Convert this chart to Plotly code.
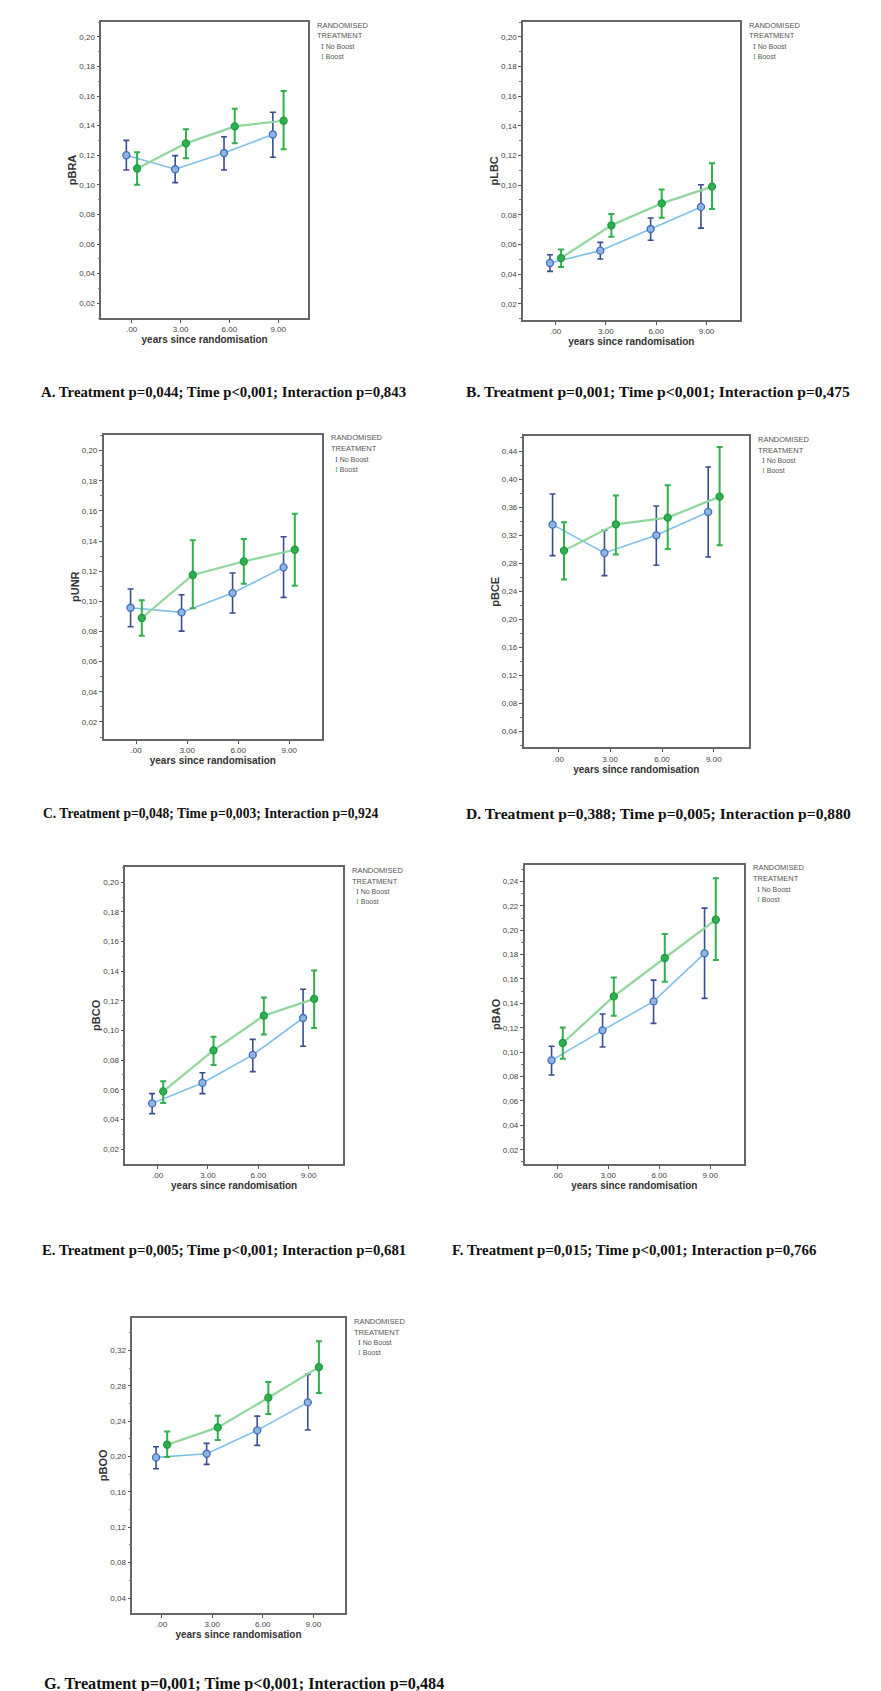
import plotly.graph_objects as go

# ---------------- data ----------------
years = [0, 3, 6, 9]
xtick_text = [".00", "3.00", "6.00", "9.00"]

# A. pBRA
pBRA_nb = [0.120, 0.1105, 0.1215, 0.134]
pBRA_nb_lo = [0.110, 0.1015, 0.110, 0.1186]
pBRA_nb_hi = [0.130, 0.1197, 0.1325, 0.149]
pBRA_b = [0.111, 0.128, 0.1395, 0.1433]
pBRA_b_lo = [0.100, 0.118, 0.128, 0.124]
pBRA_b_hi = [0.122, 0.1375, 0.1514, 0.1633]

# B. pLBC
pLBC_nb = [0.0475, 0.0558, 0.0704, 0.0853]
pLBC_nb_lo = [0.0418, 0.0502, 0.0628, 0.071]
pLBC_nb_hi = [0.053, 0.0614, 0.0778, 0.1003]
pLBC_b = [0.0508, 0.0729, 0.0877, 0.099]
pLBC_b_lo = [0.0448, 0.0652, 0.078, 0.0839]
pLBC_b_hi = [0.0565, 0.0805, 0.097, 0.1147]

# C. pUNR
pUNR_nb = [0.0958, 0.0927, 0.1055, 0.1226]
pUNR_nb_lo = [0.0832, 0.0803, 0.0923, 0.1027]
pUNR_nb_hi = [0.1082, 0.1044, 0.1188, 0.1429]
pUNR_b = [0.089, 0.1175, 0.1265, 0.1343]
pUNR_b_lo = [0.0772, 0.0954, 0.1117, 0.1104]
pUNR_b_hi = [0.1007, 0.1405, 0.1414, 0.1582]

# D. pBCE
pBCE_nb = [0.3352, 0.2948, 0.320, 0.3533]
pBCE_nb_lo = [0.291, 0.2624, 0.2771, 0.289]
pBCE_nb_hi = [0.379, 0.3271, 0.3619, 0.4176]
pBCE_b = [0.2981, 0.3357, 0.3452, 0.3752]
pBCE_b_lo = [0.2567, 0.2924, 0.3005, 0.3057]
pBCE_b_hi = [0.3386, 0.3767, 0.3914, 0.4462]

# E. pBCO
pBCO_nb = [0.0508, 0.0646, 0.0835, 0.1084]
pBCO_nb_lo = [0.0439, 0.0574, 0.0722, 0.0893]
pBCO_nb_hi = [0.0574, 0.0715, 0.094, 0.1278]
pBCO_b = [0.0589, 0.0866, 0.110, 0.1213]
pBCO_b_lo = [0.0511, 0.0767, 0.0972, 0.1017]
pBCO_b_hi = [0.0657, 0.0958, 0.1222, 0.1404]

# F. pBAO
pBAO_nb = [0.0933, 0.1179, 0.1416, 0.181]
pBAO_nb_lo = [0.0813, 0.1042, 0.1236, 0.1441]
pBAO_nb_hi = [0.1048, 0.1313, 0.1591, 0.2181]
pBAO_b = [0.1075, 0.1457, 0.1772, 0.2086]
pBAO_b_lo = [0.0946, 0.1299, 0.1578, 0.1755]
pBAO_b_hi = [0.1203, 0.1613, 0.1968, 0.2425]

# G. pBOO
pBOO_nb = [0.199, 0.2031, 0.2295, 0.2612]
pBOO_nb_lo = [0.1862, 0.1911, 0.2126, 0.2299]
pBOO_nb_hi = [0.211, 0.2148, 0.2457, 0.2929]
pBOO_b = [0.2133, 0.2329, 0.2665, 0.3011]
pBOO_b_lo = [0.1994, 0.2186, 0.248, 0.2717]
pBOO_b_hi = [0.2284, 0.2461, 0.2842, 0.3302]

# y tick sets
yt_020 = [0.02, 0.04, 0.06, 0.08, 0.10, 0.12, 0.14, 0.16, 0.18, 0.20]
yt_020_txt = ["0,02", "0,04", "0,06", "0,08", "0,10", "0,12", "0,14", "0,16", "0,18", "0,20"]
yt_044 = [0.04, 0.08, 0.12, 0.16, 0.20, 0.24, 0.28, 0.32, 0.36, 0.40, 0.44]
yt_044_txt = ["0,04", "0,08", "0,12", "0,16", "0,20", "0,24", "0,28", "0,32", "0,36", "0,40", "0,44"]
yt_024 = [0.02, 0.04, 0.06, 0.08, 0.10, 0.12, 0.14, 0.16, 0.18, 0.20, 0.22, 0.24]
yt_024_txt = ["0,02", "0,04", "0,06", "0,08", "0,10", "0,12", "0,14", "0,16", "0,18", "0,20", "0,22", "0,24"]
yt_032 = [0.04, 0.08, 0.12, 0.16, 0.20, 0.24, 0.28, 0.32]
yt_032_txt = ["0,04", "0,08", "0,12", "0,16", "0,20", "0,24", "0,28", "0,32"]

y_titles = ["pBRA", "pLBC", "pUNR", "pBCE", "pBCO", "pBAO", "pBOO"]
captions = [
    "A. Treatment p=0,044; Time p<0,001; Interaction p=0,843",
    "B. Treatment p=0,001; Time p<0,001; Interaction p=0,475",
    "C. Treatment p=0,048; Time p=0,003; Interaction p=0,924",
    "D. Treatment p=0,388; Time p=0,005; Interaction p=0,880",
    "E. Treatment p=0,005; Time p<0,001; Interaction p=0,681",
    "F. Treatment p=0,015; Time p<0,001; Interaction p=0,766",
    "G. Treatment p=0,001; Time p<0,001; Interaction p=0,484",
]
legend_title = ["RANDOMISED", "TREATMENT"]
group_names = ["No Boost", "Boost"]

# ---------------- layout geometry ----------------
W, H = 881, 1691
panels = [
    dict(nb=(pBRA_nb, pBRA_nb_lo, pBRA_nb_hi), b=(pBRA_b, pBRA_b_lo, pBRA_b_hi),
         box=(93.3, 300, 14, 310), xr=(-1.87, 10.83), yr=(0.010, 0.210),
         yt=(yt_020, yt_020_txt), minor=0.01, cap=(31, 384, 14.8)),
    dict(nb=(pLBC_nb, pLBC_nb_lo, pLBC_nb_hi), b=(pLBC_b, pLBC_b_lo, pLBC_b_hi),
         box=(515, 731.7, 14, 311.7), xr=(-1.94, 10.98), yr=(0.0092, 0.2101),
         yt=(yt_020, yt_020_txt), minor=0.01, cap=(456, 384, 15.6)),
    dict(nb=(pUNR_nb, pUNR_nb_lo, pUNR_nb_hi), b=(pUNR_b, pUNR_b_lo, pUNR_b_hi),
         box=(95.7, 314, 426.7, 730.7), xr=(-1.91, 10.93), yr=(0.0089, 0.2106),
         yt=(yt_020, yt_020_txt), minor=0.01, cap=(33, 805, 13.6)),
    dict(nb=(pBCE_nb, pBCE_nb_lo, pBCE_nb_hi), b=(pBCE_b, pBCE_b_lo, pBCE_b_hi),
         box=(515.7, 741, 428.3, 739.3), xr=(-2.0, 11.03), yr=(0.0171, 0.4614),
         yt=(yt_044, yt_044_txt), minor=0.02, cap=(456, 805, 15.6)),
    dict(nb=(pBCO_nb, pBCO_nb_lo, pBCO_nb_hi), b=(pBCO_b, pBCO_b_lo, pBCO_b_hi),
         box=(117.3, 335, 859, 1155.7), xr=(-1.93, 11.05), yr=(0.0101, 0.2103),
         yt=(yt_020, yt_020_txt), minor=0.01, cap=(32, 1242, 14.8)),
    dict(nb=(pBAO_nb, pBAO_nb_lo, pBAO_nb_hi), b=(pBAO_b, pBAO_b_lo, pBAO_b_hi),
         box=(516.7, 736, 856.7, 1156), xr=(-1.91, 10.99), yr=(0.0083, 0.2537),
         yt=(yt_024, yt_024_txt), minor=0.01, cap=(442, 1242, 14.9)),
    dict(nb=(pBOO_nb, pBOO_nb_lo, pBOO_nb_hi), b=(pBOO_b, pBOO_b_lo, pBOO_b_hi),
         box=(124.3, 336.7, 1310, 1604.7), xr=(-1.74, 10.86), yr=(0.0234, 0.3566),
         yt=(yt_032, yt_032_txt), minor=0.02, cap=(34, 1676, 16.2)),
]

styles = {
    "nb": dict(off=-0.33, line="#7ec0ea", mfill="#8db4e2", medge="#3f6fba", err="#3b4d92", ethick=1.6, lw=1.6),
    "b": dict(off=0.33, line="#8fd79a", mfill="#2fb04e", medge="#1f9940", err="#32b04c", ethick=2.0, lw=2.2),
}

fig = go.Figure()
annotations = []
layout_axes = {}

for i, p in enumerate(panels, start=1):
    xa = "x" if i == 1 else f"x{i}"
    ya = "y" if i == 1 else f"y{i}"
    for key, gname in zip(["nb", "b"], group_names):
        mean, lo, hi = p[key]
        st = styles[key]
        fig.add_trace(go.Scatter(
            x=[t + st["off"] for t in years], y=mean,
            mode="lines+markers", name=gname, showlegend=False,
            line=dict(color=st["line"], width=st["lw"]),
            marker=dict(symbol="circle", size=7, color=st["mfill"],
                        line=dict(color=st["medge"], width=1.3)),
            error_y=dict(type="data", symmetric=False,
                         array=[h - m for h, m in zip(hi, mean)],
                         arrayminus=[m - l for m, l in zip(mean, lo)],
                         color=st["err"], thickness=st["ethick"], width=3),
            xaxis=xa, yaxis=ya,
        ))
    left, right, top, bottom = p["box"]
    xdom = [left / W, right / W]
    ydom = [1 - bottom / H, 1 - top / H]
    axis_common = dict(showline=True, linecolor="#666666", linewidth=1.6, mirror=True,
                       showgrid=False, zeroline=False, ticks="outside", ticklen=3,
                       tickcolor="#555", tickfont=dict(family="Arial", size=8, color="#444"))
    layout_axes[f"xaxis{'' if i == 1 else i}"] = dict(
        domain=xdom, range=list(p["xr"]), anchor=ya,
        tickmode="array", tickvals=years, ticktext=xtick_text,
        title=dict(text="years since randomisation", standoff=3,
                   font=dict(family="Arial", size=10, color="#333", weight="bold")),
        **axis_common)
    layout_axes[f"yaxis{'' if i == 1 else i}"] = dict(
        domain=ydom, range=list(p["yr"]), anchor=xa,
        tickmode="array", tickvals=p["yt"][0], ticktext=p["yt"][1],
        minor=dict(ticks="outside", ticklen=2, dtick=p["minor"], tick0=0, tickcolor="#777"),
        title=dict(text=y_titles[i - 1], standoff=0,
                   font=dict(family="Arial", size=11, color="#333", weight="bold")),
        **axis_common)

    # legend block (per panel), one line per annotation
    for k, line in enumerate(legend_title):
        annotations.append(dict(
            x=(right + 7) / W, y=1 - (top + 3 + 11 * k) / H, xref="paper", yref="paper",
            xanchor="left", yanchor="middle", text=line, showarrow=False,
            font=dict(family="Arial", size=7.5, color="#555")))
    for k, (gname, col) in enumerate(zip(group_names, [styles["nb"]["err"], styles["b"]["err"]])):
        annotations.append(dict(
            x=(right + 11) / W, y=1 - (top + 25 + 10 * k) / H, xref="paper", yref="paper",
            xanchor="left", yanchor="middle", showarrow=False, align="left",
            text=f"<span style='font-family:DejaVu Serif;color:{col}'>I</span> {gname}",
            font=dict(family="Arial", size=7, color="#555")))

    # caption
    cx, cy, cs = p["cap"]
    annotations.append(dict(
        x=cx / W, y=1 - cy / H, xref="paper", yref="paper", xanchor="left", yanchor="middle",
        text=captions[i - 1], showarrow=False,
        font=dict(family="Liberation Serif", size=cs, color="#111", weight="bold")))

fig.update_layout(
    width=W, height=H, margin=dict(l=0, r=0, t=0, b=0),
    paper_bgcolor="white", plot_bgcolor="white",
    annotations=annotations, showlegend=False,
    **layout_axes,
)

fig.write_html("out.html")
